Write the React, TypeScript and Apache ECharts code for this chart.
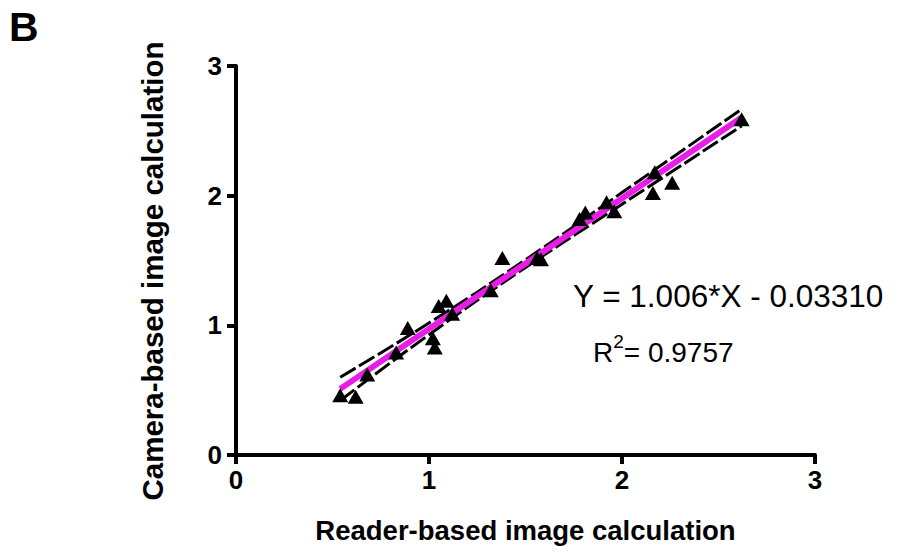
import React, { useEffect, useRef } from "react";
import * as echarts from "echarts";

const readerValues = [0.54, 0.62, 0.68, 0.83, 0.89, 1.02, 1.03, 1.05, 1.09, 1.12, 1.32, 1.38, 1.56, 1.58, 1.78, 1.81, 1.92, 1.96, 2.16, 2.17, 2.26, 2.62];
const cameraValues = [0.46, 0.45, 0.62, 0.79, 0.98, 0.90, 0.83, 1.15, 1.19, 1.09, 1.27, 1.52, 1.52, 1.51, 1.82, 1.87, 1.95, 1.88, 2.02, 2.18, 2.10, 2.59];

const fitX = [0.54, 2.62];
const fitY = [0.510, 2.603];

const bandX = [0.54, 1.0, 1.5, 2.0, 2.62];
const bandUpper = [0.60, 1.018, 1.506, 2.024, 2.668];
const bandLower = [0.42, 0.928, 1.446, 1.934, 2.538];

const axisTicks = [0, 1, 2, 3];

const FONT = "'Liberation Sans', Arial, Helvetica, sans-serif";

export default function App() {
  const ref = useRef<HTMLDivElement>(null);
  useEffect(() => {
    if (!ref.current) return;
    const chart = echarts.init(ref.current, null, { renderer: "svg" });
    const pts = readerValues.map((x, i) => [x, cameraValues[i]]);
    const fit = fitX.map((x, i) => [x, fitY[i]]);
    const up = bandX.map((x, i) => [x, bandUpper[i]]);
    const lo = bandX.map((x, i) => [x, bandLower[i]]);
    const axisCommon = {
      type: "value",
      min: axisTicks[0],
      max: axisTicks[axisTicks.length - 1],
      interval: 1,
      splitLine: { show: false },
      axisLine: { show: true, lineStyle: { color: "#000", width: 4 } },
      axisTick: { show: true, length: 9, lineStyle: { color: "#000", width: 4 } },
      axisLabel: { color: "#000", fontFamily: FONT, fontWeight: "bold", fontSize: 26 },
      nameLocation: "middle",
    };
    chart.setOption({
      animation: false,
      backgroundColor: "#fff",
      grid: { left: 236, right: 84, top: 66, bottom: 97 },
      xAxis: {
        ...axisCommon,
        name: "Reader-based image calculation",
        nameGap: 61,
        nameTextStyle: { color: "#000", fontFamily: FONT, fontWeight: "bold", fontSize: 27.5 },
        axisLabel: { ...axisCommon.axisLabel, margin: 12 },
      },
      yAxis: {
        ...axisCommon,
        axisLabel: { ...axisCommon.axisLabel, margin: 14 },
      },
      series: [
        {
          type: "line",
          data: up,
          smooth: true,
          symbol: "none",
          lineStyle: { color: "#000", width: 3, type: [18, 4] },
          z: 2,
        },
        {
          type: "line",
          data: lo,
          smooth: true,
          symbol: "none",
          lineStyle: { color: "#000", width: 3, type: [18, 4] },
          z: 2,
        },
        {
          type: "line",
          data: fit,
          symbol: "none",
          lineStyle: { color: "#e81ee8", width: 6 },
          z: 3,
        },
        {
          type: "scatter",
          data: pts,
          symbol: "triangle",
          symbolSize: [16, 14],
          itemStyle: { color: "#000", opacity: 1 },
          z: 4,
        },
      ],
      graphic: [
        {
          type: "text",
          left: 9,
          top: 6,
          style: { text: "B", font: `bold 41px ${FONT}`, fill: "#000" },
        },
        {
          type: "text",
          x: 152,
          y: 271,
          rotation: Math.PI / 2,
          style: {
            text: "Camera-based image calculation",
            font: `bold 29.5px ${FONT}`,
            fill: "#000",
            align: "center",
            verticalAlign: "middle",
          },
        },
        {
          type: "text",
          left: 573,
          top: 280,
          style: { text: "Y = 1.006*X - 0.03310", font: `31.5px ${FONT}`, fill: "#000" },
        },
        {
          type: "text",
          left: 593,
          top: 332,
          style: {
            text: "{a|R}{s|2}{a|= 0.9757}",
            fill: "#000",
            rich: {
              a: { fontFamily: FONT, fontSize: 28, fill: "#000", lineHeight: 34, verticalAlign: "bottom" },
              s: { fontFamily: FONT, fontSize: 19, fill: "#000", lineHeight: 34, verticalAlign: "top", padding: [0, 0, 12, 0] },
            },
          },
        },
      ],
    });
    return () => chart.dispose();
  }, []);
  return <div ref={ref} style={{ position: "absolute", left: 0, top: 0, width: 899, height: 552 }} />;
}
